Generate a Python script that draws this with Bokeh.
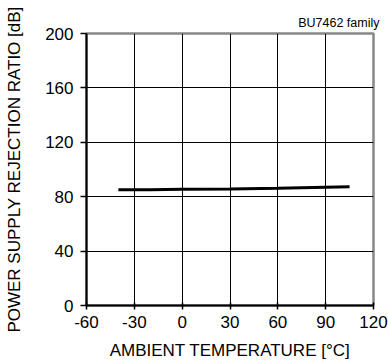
from bokeh.plotting import figure
from bokeh.models import FixedTicker, Range1d, CustomJSTickFormatter
from bokeh.embed import file_html
from bokeh.resources import INLINE

# Data
temperature = [-40, -20, 0, 30, 60, 90, 105]
psrr_db = [85.1, 85.2, 85.4, 85.7, 86.3, 87.0, 87.3]
x_ticks = [-60, -30, 0, 30, 60, 90, 120]
y_ticks = [0, 40, 80, 120, 160, 200]
x_title = "AMBIENT TEMPERATURE [°C]"
y_title = "POWER SUPPLY REJECTION RATIO [dB]"
note = "BU7462 family"

FONT = "Liberation Sans"

p = figure(width=388, height=363, output_backend="svg", toolbar_location=None,
           x_range=Range1d(-60, 120), y_range=Range1d(0, 200),
           min_border_left=86, min_border_right=15, min_border_top=33, min_border_bottom=58)
p.background_fill_color = "white"
p.border_fill_color = "white"
p.outline_line_color = "#888888"
p.outline_line_width = 2.5

p.line(temperature, psrr_db, line_color="black", line_width=3)

fmt = CustomJSTickFormatter(code="return tick.toString();")
for ax in (p.xaxis[0], p.yaxis[0]):
    ax.axis_line_color = "black"
    ax.axis_line_width = 2
    ax.major_tick_line_color = "black"
    ax.major_tick_line_width = 1.5
    ax.minor_tick_line_color = None
    ax.major_label_text_font = FONT
    ax.major_label_text_font_size = "17px"
    ax.major_label_text_color = "black"
    ax.axis_label_text_font = FONT
    ax.axis_label_text_font_size = "17px"
    ax.axis_label_text_font_style = "normal"
    ax.axis_label_text_color = "black"
    ax.formatter = fmt

p.xaxis.ticker = FixedTicker(ticks=x_ticks)
p.yaxis.ticker = FixedTicker(ticks=y_ticks)
p.xaxis.major_tick_in = 3
p.xaxis.major_tick_out = 4
p.yaxis.major_tick_in = 0
p.yaxis.major_tick_out = 6
p.xaxis.major_label_standoff = 6
p.yaxis.major_label_standoff = 7
p.xaxis.axis_label = x_title
p.xaxis.axis_label_standoff = 10
p.yaxis.axis_label = y_title
p.yaxis.axis_label_standoff = 18

p.xgrid.ticker = FixedTicker(ticks=x_ticks)
p.ygrid.ticker = FixedTicker(ticks=y_ticks)
for g in (p.xgrid[0], p.ygrid[0]):
    g.grid_line_color = "black"
    g.grid_line_width = 1

p.title.text = note
p.title.align = "right"
p.title.offset = -6
p.title.standoff = 7
p.title.text_font = FONT
p.title.text_font_size = "12.5px"
p.title.text_font_style = "normal"
p.title.text_color = "black"

open("out.html", "w").write(file_html(p, INLINE))
